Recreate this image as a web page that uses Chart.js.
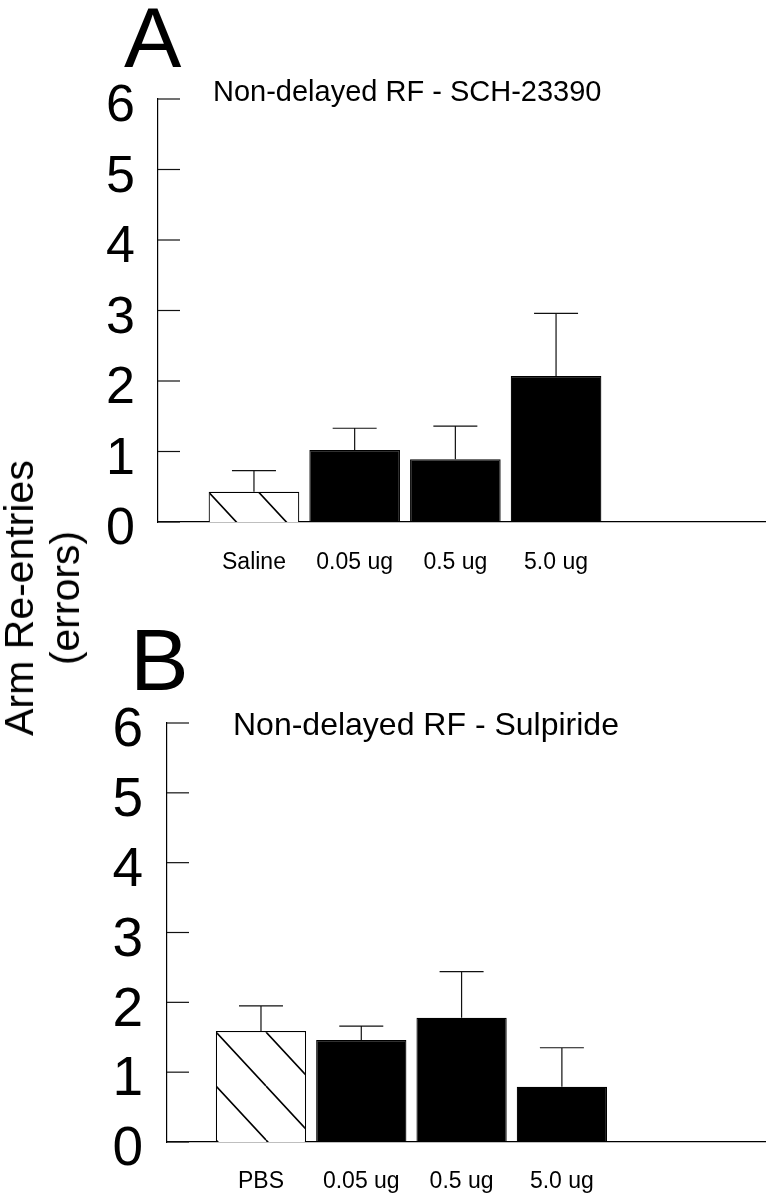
<!DOCTYPE html>
<html>
<head>
<meta charset="utf-8">
<script src="https://cdn.jsdelivr.net/npm/chart.js@4.4.1/dist/chart.umd.min.js"></script>
<style>
  html, body { margin: 0; padding: 0; background: #fff; }
  #page { position: relative; width: 772px; height: 1199px; overflow: hidden; font-family: "Liberation Sans", Arial, sans-serif; }
  .panel { position: absolute; left: 0; width: 772px; }
  #panelA { top: 0; height: 600px; }
  #panelB { top: 600px; height: 599px; }
  #yTitle { position: absolute; left: 42px; top: 598px; transform: translate(-50%, -50%) rotate(-90deg);
            font-size: 41px; line-height: 46px; text-align: center; white-space: nowrap; color: #000; }
</style>
</head>
<body>
<div id="page">
  <div class="panel" id="panelA"><canvas id="chartA"></canvas></div>
  <div class="panel" id="panelB"><canvas id="chartB"></canvas></div>
  <div id="yTitle">Arm Re-entries<br>(errors)</div>
</div>
<script>
// tick values shared by both panels
const yTicks = [0, 1, 2, 3, 4, 5, 6];

// Panel A: SCH-23390
const categoriesA = ["Saline", "0.05 ug", "0.5 ug", "5.0 ug"];
const meansA = [0.43, 1.02, 0.89, 2.07];
const semA = [0.30, 0.31, 0.47, 0.89];

// Panel B: Sulpiride
const categoriesB = ["PBS", "0.05 ug", "0.5 ug", "5.0 ug"];
const meansB = [1.59, 1.46, 1.78, 0.79];
const semB = [0.36, 0.20, 0.66, 0.56];

Chart.defaults.font.family = '"Liberation Sans", Arial, sans-serif';
Chart.defaults.color = "#000";

// diagonal hatch for the vehicle bar
function makeHatch(ctx, offset) {
  const w = 50, h = 54;
  const tile = document.createElement("canvas");
  tile.width = w;
  tile.height = h;
  const c = tile.getContext("2d");
  c.fillStyle = "#fff";
  c.fillRect(0, 0, w, h);
  c.strokeStyle = "#000";
  c.lineWidth = 1.6;
  c.beginPath();
  for (const dx of [-w, 0, w]) {
    c.moveTo(dx, 0);
    c.lineTo(dx + w, h);
  }
  c.stroke();
  const pat = ctx.createPattern(tile, "repeat");
  pat.setTransform(new DOMMatrix().translate(offset, 0));
  return pat;
}

function makePanel(id, p) {
  const canvas = document.getElementById(id);
  const ctx = canvas.getContext("2d");
  const H = canvas.parentNode.clientHeight;
  const hatch = makeHatch(ctx, p.hatchOffset);

  // error bars (upper only), inward ticks, panel letter and title
  const marks = {
    id: "marks" + id,
    afterDatasetsDraw(chart) {
      const c = chart.ctx, xs = chart.scales.x, ys = chart.scales.y;
      c.save();
      c.strokeStyle = "#111";
      c.lineWidth = 1.2;
      p.means.forEach((m, i) => {
        const x = xs.getPixelForValue(i + 1);
        const y0 = ys.getPixelForValue(m);
        const y1 = ys.getPixelForValue(m + p.sem[i]);
        c.beginPath();
        c.moveTo(x, y0);
        c.lineTo(x, y1);
        c.moveTo(x - 22, y1);
        c.lineTo(x + 22, y1);
        c.stroke();
      });
      const left = chart.chartArea.left;
      yTicks.forEach(v => {
        const y = ys.getPixelForValue(v);
        c.beginPath();
        c.moveTo(left, y);
        c.lineTo(left + 22, y);
        c.stroke();
      });
      c.fillStyle = "#000";
      c.textAlign = "left";
      c.textBaseline = "alphabetic";
      c.font = p.letterFont;
      c.fillText(p.letter, p.letterX, p.letterY);
      c.font = p.titleFont;
      c.fillText(p.title, p.titleX, p.titleY);
      c.restore();
    }
  };

  return new Chart(ctx, {
    type: "bar",
    data: {
      datasets: [{
        data: p.categories.map((c, i) => ({ x: i + 1, y: p.means[i] })),
        backgroundColor: p.categories.map((c, i) => (i === 0 ? hatch : "#000")),
        borderColor: "#000",
        borderWidth: 1.2,
        categoryPercentage: 1,
        barPercentage: 0.9
      }]
    },
    options: {
      responsive: true,
      maintainAspectRatio: false,
      animation: false,
      layout: { padding: { top: p.top, right: 7, left: 0, bottom: 0 } },
      plugins: { legend: { display: false }, tooltip: { enabled: false } },
      scales: {
        x: {
          type: "linear",
          offset: false,
          min: p.xMin,
          max: p.xMax,
          grid: { display: false, drawTicks: false, offset: false },
          border: { display: true, color: "#000", width: 1.2 },
          afterBuildTicks: s => { s.ticks = p.categories.map((c, i) => ({ value: i + 1 })); },
          afterFit: s => { s.height = H - p.bottom; },
          ticks: {
            autoSkip: false,
            maxRotation: 0,
            padding: p.xPad,
            font: { size: 23 },
            callback: v => p.categories[v - 1] ?? ""
          }
        },
        y: {
          min: 0,
          max: 6,
          grid: { display: false, drawTicks: false },
          border: { display: true, color: "#000", width: 1.2 },
          afterBuildTicks: s => { s.ticks = yTicks.map(v => ({ value: v })); },
          afterFit: s => { s.width = p.left; },
          ticks: { padding: p.yPad, labelOffset: 8, font: { size: p.yFont } }
        }
      }
    },
    plugins: [marks]
  });
}

makePanel("chartA", {
  categories: categoriesA, means: meansA, sem: semA,
  top: 99, bottom: 522, left: 158, xMin: 0.047, xMax: 6.075,
  xPad: 27, yPad: 23, yFont: 52, hatchOffset: 3,
  letter: "A", letterFont: "86px 'Liberation Sans', Arial", letterX: 124, letterY: 67,
  title: "Non-delayed RF - SCH-23390", titleFont: "29px 'Liberation Sans', Arial", titleX: 213, titleY: 101
});

makePanel("chartB", {
  categories: categoriesB, means: meansB, sem: semB,
  top: 123, bottom: 542, left: 167, xMin: 0.063, xMax: 6.025,
  xPad: 26, yPad: 24, yFont: 55, hatchOffset: 16,
  letter: "B", letterFont: "88px 'Liberation Sans', Arial", letterX: 130, letterY: 90,
  title: "Non-delayed RF - Sulpiride", titleFont: "32px 'Liberation Sans', Arial", titleX: 233, titleY: 135
});
</script>
</body>
</html>
